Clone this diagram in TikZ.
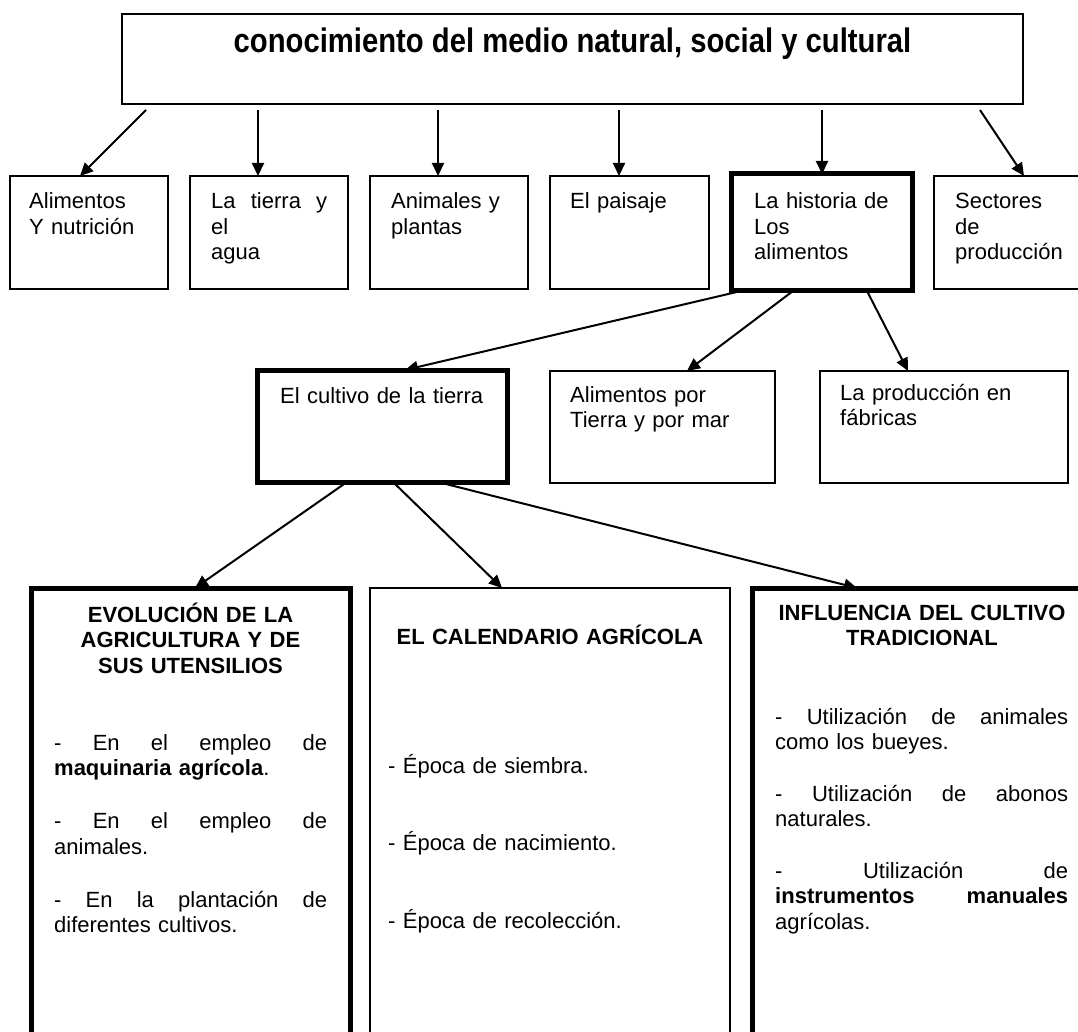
\documentclass[tikz,border=0pt]{standalone}
\usepackage{fontspec}
\setmainfont{Liberation Sans}
\newfontfamily\narrowfont[FakeStretch=0.86]{Liberation Sans}
\usetikzlibrary{arrows.meta}
\newcommand{\bodysize}{\fontsize{22}{25.5}\selectfont}
\begin{document}
\begin{tikzpicture}[x=1pt, y=-1pt,
  box/.style={draw, line width=1.5pt, anchor=north west, inner sep=0pt, outer sep=0pt},
  boldbox/.style={box, line width=5pt},
  txt/.style={anchor=base west, inner sep=0pt, align=left, font=\bodysize},
  head/.style={anchor=base, inner sep=0pt, align=center, font=\bodysize\bfseries},
  arr/.style={line width=2pt, -{Triangle[length=13pt, width=12pt]}}]
\useasboundingbox (0,0) rectangle (1078,1032);

% Boxes
\node[box, minimum width=901pt, minimum height=90pt] (topbox) at (122,14) {};
\node[box, minimum width=158pt, minimum height=113pt] (alim) at (10,176) {};
\node[box, minimum width=158pt, minimum height=113pt] (tierra) at (190,176) {};
\node[box, minimum width=158pt, minimum height=113pt] (anim) at (370,176) {};
\node[box, minimum width=159pt, minimum height=113pt] (paisaje) at (550,176) {};
\node[boldbox, minimum width=181pt, minimum height=116pt] (hist) at (731,174) {};
\node[box, minimum width=158pt, minimum height=113pt] (sect) at (934,176) {};
\node[boldbox, minimum width=250pt, minimum height=112pt] (cultivo) at (257,370) {};
\node[box, minimum width=225pt, minimum height=112pt] (mar) at (550,371) {};
\node[box, minimum width=248pt, minimum height=112pt] (fabricas) at (820,371) {};
\node[boldbox, minimum width=319pt, minimum height=470pt] (evol) at (31,588) {};
\node[box, minimum width=360pt, minimum height=470pt] (calend) at (370,588) {};
\node[boldbox, minimum width=340pt, minimum height=470pt] (influ) at (752,588) {};

% Texts
\node[anchor=base, inner sep=0pt, font=\narrowfont\fontsize{34}{40}\selectfont\bfseries] (titulo)
  at ([shift={(0,39)}]topbox.north) {conocimiento del medio natural, social y cultural};
\node[txt, text width=130pt] (alimT) at ([shift={(19,33)}]alim.north west) {Alimentos\\Y nutrición};
\node[txt, text width=116pt] (tierraT) at ([shift={(21,33)}]tierra.north west) {La\hfill tierra\hfill y\\el\\agua};
\node[txt, text width=130pt] (animT) at ([shift={(21,33)}]anim.north west) {Animales y\\plantas};
\node[txt, text width=130pt] (paisajeT) at ([shift={(20,33)}]paisaje.north west) {El paisaje};
\node[txt, text width=150pt] (histT) at ([shift={(23,35)}]hist.north west) {La historia de\\Los\\alimentos};
\node[txt, text width=130pt] (sectT) at ([shift={(21,33)}]sect.north west) {Sectores\\de\\producción};
\node[txt, text width=220pt] (cultivoT) at ([shift={(23,33)}]cultivo.north west) {El cultivo de la tierra};
\node[txt, text width=200pt] (marT) at ([shift={(20,31)}]mar.north west) {Alimentos por\\Tierra y por mar};
\node[txt, text width=220pt] (fabricasT) at ([shift={(20,29)}]fabricas.north west) {La producción en\\fábricas};

\node[head, text width=300pt] (evolH) at ([shift={(0,34)}]evol.north)
  {EVOLUCIÓN DE LA\\AGRICULTURA Y DE\\SUS UTENSILIOS};
\node[txt, text width=273pt] (evolT) at ([shift={(23,162)}]evol.north west)
  {-\hfill En\hfill el\hfill empleo\hfill de\\\textbf{maquinaria agrícola}.\\[27.5pt]
   -\hfill En\hfill el\hfill empleo\hfill de\\animales.\\[27.5pt]
   -\hfill En\hfill la\hfill plantación\hfill de\\diferentes cultivos.};

\node[head, text width=340pt] (calendH) at ([shift={(0,56)}]calend.north) {EL CALENDARIO AGRÍCOLA};
\node[txt, text width=320pt] (calendT) at ([shift={(18,185)}]calend.north west)
  {- Época de siembra.\\[52pt]- Época de nacimiento.\\[52pt]- Época de recolección.};

\node[head, text width=320pt] (influH) at ([shift={(0,32)}]influ.north)
  {INFLUENCIA DEL CULTIVO\\TRADICIONAL};
\node[txt, text width=293pt] (influT) at ([shift={(23,136)}]influ.north west)
  {-\hfill Utilización\hfill de\hfill animales\\como los bueyes.\\[26pt]
   -\hfill Utilización\hfill de\hfill abonos\\naturales.\\[26pt]
   -\hfill Utilización\hfill de\\\textbf{instrumentos}\hfill\textbf{manuales}\\agrícolas.};

% Arrows
\draw[arr] ([shift={(24,6)}]topbox.south west) -- ([xshift=70pt]alim.north west);
\draw[arr] ([shift={(136,6)}]topbox.south west) -- ([xshift=68pt]tierra.north west);
\draw[arr] ([shift={(316,6)}]topbox.south west) -- ([xshift=68pt]anim.north west);
\draw[arr] ([shift={(497,6)}]topbox.south west) -- ([xshift=69pt]paisaje.north west);
\draw[arr] ([shift={(700,6)}]topbox.south west) -- ([xshift=91pt]hist.north west);
\draw[arr] ([shift={(858,6)}]topbox.south west) -- ([xshift=90pt]sect.north west);

\draw[arr] ([shift={(10,1)}]hist.south west) -- ([xshift=148pt]cultivo.north west);
\draw[arr] ([shift={(62,1)}]hist.south west) -- ([xshift=137pt]mar.north west);
\draw[arr] ([shift={(136,1)}]hist.south west) -- ([xshift=88pt]fabricas.north west);

\draw[arr] ([shift={(90,0)}]cultivo.south west) -- ([xshift=164pt]evol.north west);
\draw[arr] ([shift={(136,0)}]cultivo.south west) -- ([xshift=132pt]calend.north west);
\draw[arr] ([shift={(181,0)}]cultivo.south west) -- ([xshift=105pt]influ.north west);
\end{tikzpicture}
\end{document}
